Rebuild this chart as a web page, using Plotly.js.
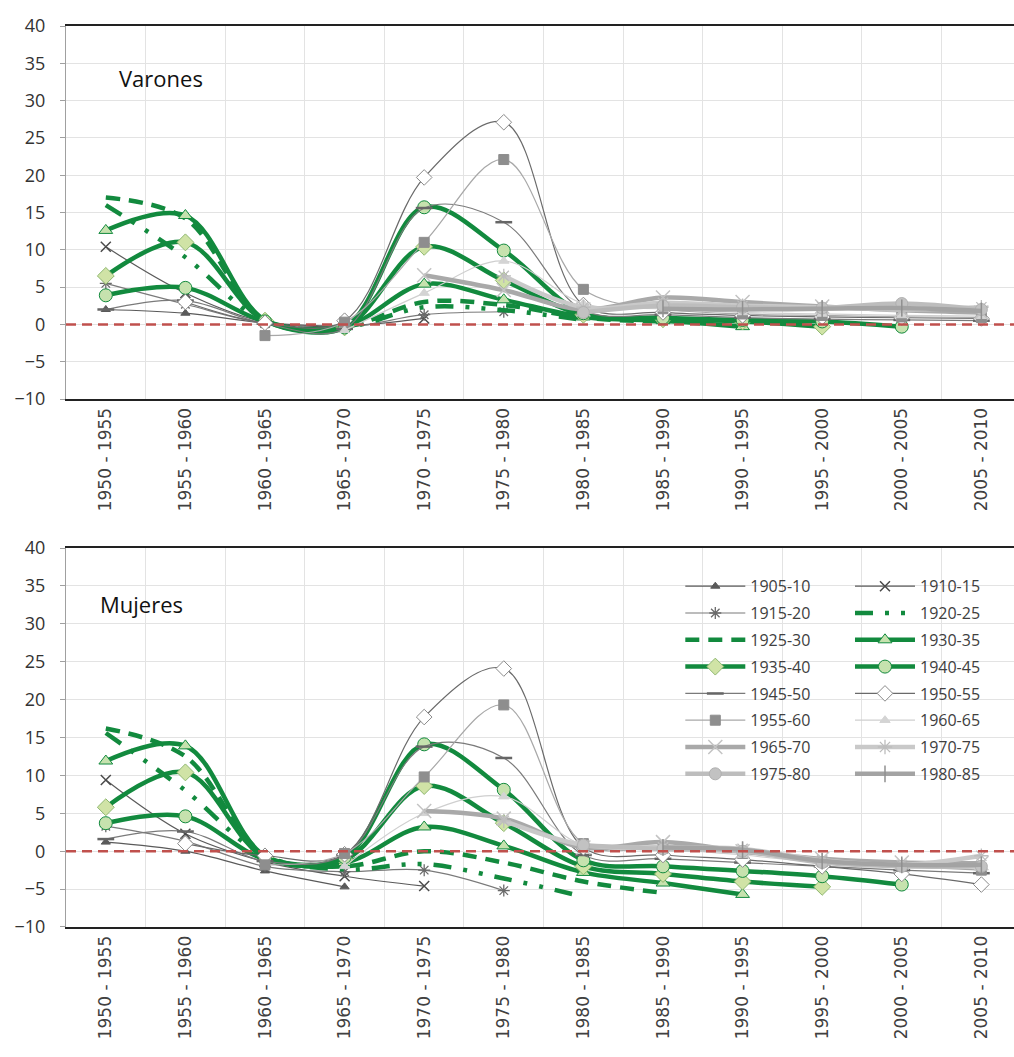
<!DOCTYPE html>
<html><head><meta charset="utf-8">
<script src="https://cdn.plot.ly/plotly-3.0.1.min.js"></script>
<style>html,body{margin:0;padding:0;background:#fff}#chart{width:1014px;height:1057px}</style>
</head><body><div id="chart"></div>
<script>
// ---- DATA ----
const periods = ['1950 - 1955','1955 - 1960','1960 - 1965','1965 - 1970','1970 - 1975','1975 - 1980',
                 '1980 - 1985','1985 - 1990','1990 - 1995','1995 - 2000','2000 - 2005','2005 - 2010'];
const cohorts = ['1905-10','1910-15','1915-20','1920-25','1925-30','1930-35','1935-40','1940-45',
                 '1945-50','1950-55','1955-60','1960-65','1965-70','1970-75','1975-80','1980-85'];
const panelTitles = ['Varones','Mujeres'];
const yTicks = [-10,-5,0,5,10,15,20,25,30,35,40];

// Varones
const V1905 = [2.0, 1.5, 0.2, -0.3, null, null, null, null, null, null, null, null];
const V1910 = [10.4, 4.2, 0.3, -0.2, 0.8, null, null, null, null, null, null, null];
const V1915 = [5.5, 2.7, 0.1, -0.4, 1.3, 1.7, null, null, null, null, null, null];
const V1920 = [16.0, 9.0, 0.4, -0.4, 2.3, 1.9, 0.6, null, null, null, null, null];
const V1925 = [17.0, 14.2, 0.6, -0.3, 3.0, 2.6, 0.9, 0.4, null, null, null, null];
const V1930 = [12.6, 14.6, 0.6, -0.3, 5.4, 3.3, 1.0, 0.5, -0.3, null, null, null];
const V1935 = [6.5, 11.0, 0.5, -0.4, 10.4, 5.9, 1.3, 0.7, 0.4, -0.3, null, null];
const V1940 = [3.9, 4.9, 0.4, -0.4, 15.7, 9.9, 1.5, 0.9, 0.6, 0.4, -0.3, null];
const V1945 = [2.0, 3.2, 0.1, -0.6, 15.6, 13.7, 1.9, 1.3, 0.9, 0.7, 0.6, 0.5];
const V1950 = [null, 3.0, 0.2, 0.5, 19.7, 27.1, 2.6, 1.6, 1.2, 1.0, 0.9, 0.8];
const V1955 = [null, null, -1.5, 0.3, 11.0, 22.1, 4.7, 2.1, 1.4, 1.2, 1.0, 0.9];
const V1960 = [null, null, null, -0.8, 4.2, 8.5, 2.8, 2.1, 1.6, 1.4, 1.2, 1.1];
const V1965 = [null, null, null, null, 6.6, 4.6, 2.0, 3.6, 3.0, 2.4, 1.9, 1.6];
const V1970 = [null, null, null, null, null, 6.5, 2.3, 2.9, 2.5, 2.3, 2.0, 2.3];
const V1975 = [null, null, null, null, null, null, 1.6, 2.5, 2.3, 2.2, 2.8, 2.0];
const V1980 = [null, null, null, null, null, null, null, 2.1, 2.0, 2.1, 2.2, 1.8];

// Mujeres
const M1905 = [1.2, 0.0, -2.6, -4.7, null, null, null, null, null, null, null, null];
const M1910 = [9.4, 2.3, -1.4, -3.3, -4.6, null, null, null, null, null, null, null];
const M1915 = [3.3, 1.3, -2.0, -2.7, -2.5, -5.2, null, null, null, null, null, null];
const M1920 = [15.6, 8.0, -0.6, -2.4, -1.7, -3.6, -6.0, null, null, null, null, null];
const M1925 = [16.2, 12.5, -0.5, -2.0, 0.0, -1.5, -4.0, -5.5, null, null, null, null];
const M1930 = [11.9, 13.9, -0.6, -1.5, 3.2, 0.7, -2.8, -4.2, -5.7, null, null, null];
const M1935 = [5.8, 10.4, -0.8, -1.1, 8.6, 3.7, -2.0, -3.0, -4.0, -4.7, null, null];
const M1940 = [3.7, 4.6, -1.0, -0.8, 14.1, 8.1, -1.2, -2.0, -2.6, -3.3, -4.4, null];
const M1945 = [1.6, 2.6, -1.3, -0.5, 13.8, 12.3, -0.5, -1.0, -1.5, -2.0, -2.5, -2.9];
const M1950 = [null, 1.0, -0.6, -0.4, 17.7, 24.1, 0.5, -0.5, -1.1, -2.0, -3.0, -4.4];
const M1955 = [null, null, -1.8, -0.3, 9.8, 19.3, 1.0, 0.4, -0.3, -1.4, -2.0, -2.5];
const M1960 = [null, null, null, -2.0, 5.0, 7.2, 0.8, 0.3, -0.5, -1.5, -2.0, -2.2];
const M1965 = [null, null, null, null, 5.3, 4.3, 0.5, 1.2, 0.0, -1.0, -1.5, -1.6];
const M1970 = [null, null, null, null, null, 4.0, 0.8, 0.5, 0.3, -1.2, -1.8, -0.6];
const M1975 = [null, null, null, null, null, null, 0.8, 0.3, 0.0, -1.5, -2.0, -2.0];
const M1980 = [null, null, null, null, null, null, null, 0.5, 0.2, -1.3, -1.8, -1.8];

const varones = [V1905,V1910,V1915,V1920,V1925,V1930,V1935,V1940,V1945,V1950,V1955,V1960,V1965,V1970,V1975,V1980];
const mujeres = [M1905,M1910,M1915,M1920,M1925,M1930,M1935,M1940,M1945,M1950,M1955,M1960,M1965,M1970,M1975,M1980];

// ---- STYLES ----
const G = '#128a3e', LG = '#c6e2ae', LGD = '#d0e3a6';
const styles = [
  {lc:'#5a5a5a', lw:1.2, sym:'triangle-up', ms:8, mc:'#5a5a5a', ml:'#5a5a5a', mlw:1},
  {lc:'#5a5a5a', lw:1.2, sym:'x-thin-open', ms:10, mc:'#4a4a4a', ml:'#4a4a4a', mlw:1.5},
  {lc:'#7a7a7a', lw:1.2, sym:'asterisk-open', ms:10, mc:'#6a6a6a', ml:'#6a6a6a', mlw:1.3},
  {lc:G, lw:4.5, dash:'18px,12px,4px,12px,4px,12px', sym:null},
  {lc:G, lw:4.5, dash:'14px,9px', sym:null},
  {lc:G, lw:4.5, sym:'triangle-up', ms:12, mc:LG, ml:G, mlw:1},
  {lc:G, lw:4.5, sym:'diamond', ms:13, mc:LGD, ml:'#8fb870', mlw:1},
  {lc:G, lw:4.5, sym:'circle', ms:13, mc:LG, ml:G, mlw:1},
  {lc:'#7a7a7a', lw:1.2, sym:'line-ew-open', ms:12, mc:'#666', ml:'#666', mlw:2.5},
  {lc:'#6a6a6a', lw:1.2, sym:'diamond', ms:12, mc:'#ffffff', ml:'#8a8a8a', mlw:1},
  {lc:'#a8a8a8', lw:1.2, sym:'square', ms:10, mc:'#8e8e8e', ml:'#8e8e8e', mlw:1},
  {lc:'#cfcfcf', lw:1.2, sym:'triangle-up', ms:9, mc:'#d4d4d4', ml:'#d4d4d4', mlw:1},
  {lc:'#a9a9a9', lw:4.5, sym:'x-thin-open', ms:14, mc:'#c4c4c4', ml:'#c4c4c4', mlw:1.5},
  {lc:'#c9c9c9', lw:4.5, sym:'asterisk-open', ms:12, mc:'#bdbdbd', ml:'#bdbdbd', mlw:1.3},
  {lc:'#bdbdbd', lw:4.5, sym:'circle', ms:12, mc:'#c2c2c2', ml:'#b0b0b0', mlw:1},
  {lc:'#a3a3a3', lw:4.5, sym:'line-ns-open', ms:12, mc:'#909090', ml:'#909090', mlw:1.5}
];

function mkTrace(vals, i, yax, showLeg) {
  const s = styles[i];
  const t = {
    type:'scatter', x: periods, y: vals, xaxis: yax==='y' ? 'x' : 'x2', yaxis: yax,
    name: cohorts[i], legendgroup: 'g'+i, showlegend: showLeg,
    legend: (i % 2 === 0) ? 'legend' : 'legend2',
    mode: s.sym ? 'lines+markers' : 'lines',
    line: {color: s.lc, width: s.lw, shape:'spline', smoothing:1, dash: s.dash || 'solid'},
    connectgaps:false, hoverinfo:'name+y', cliponaxis:false
  };
  if (s.sym) t.marker = {symbol: s.sym, size: s.ms, color: s.mc, line:{color: s.ml, width: s.mlw}};
  return t;
}

const traces = [];
varones.forEach((v,i)=>traces.push(mkTrace(v,i,'y',false)));
mujeres.forEach((v,i)=>traces.push(mkTrace(v,i,'y2',true)));

const tickFontY = {family:'Open Sans, sans-serif', size:18, color:'#333'};
const tickFontX = {family:'DejaVu Sans, sans-serif', size:17, color:'#404040'};
const xBase = {
  type:'category', range:[-0.5, 11.41], tickson:'boundaries', showgrid:true, gridcolor:'#e3e3e3',
  ticks:'', tickangle:-90, tickfont:tickFontX, showline:true, mirror:true, linecolor:'#222', linewidth:2,
  zeroline:false
};
const yBase = {
  range:[-10,40], tickvals:yTicks, showgrid:true, gridcolor:'#e3e3e3', zeroline:false,
  showline:true, linecolor:'#a0a0a0', linewidth:1, ticks:'outside', ticklen:5, tickcolor:'#a0a0a0',
  tickfont:tickFontY, ticklabelstandoff:11
};
const legBase = {
  xanchor:'left', yanchor:'top', y:0.397, bgcolor:'rgba(0,0,0,0)',
  font:{family:'Open Sans, sans-serif', size:16, color:'#404040'},
  itemwidth:60, traceorder:'grouped', tracegroupgap:3
};

const layout = {
  width:1014, height:1057, margin:{l:66, r:0, t:26, b:130},
  paper_bgcolor:'#fff', plot_bgcolor:'#fff',
  xaxis: Object.assign({}, xBase, {domain:[0,1], anchor:'y'}),
  xaxis2: Object.assign({}, xBase, {domain:[0,1], anchor:'y2'}),
  yaxis: Object.assign({}, yBase, {domain:[0.586,1], anchor:'x'}),
  yaxis2: Object.assign({}, yBase, {domain:[0,0.4206], anchor:'x2'}),
  legend: Object.assign({}, legBase, {x:0.648}),
  legend2: Object.assign({}, legBase, {x:0.827}),
  shapes: [
    {type:'line', xref:'paper', x0:0, x1:1, yref:'y', y0:0, y1:0, line:{color:'#c0504d', width:2.5, dash:'10px,6px'}},
    {type:'line', xref:'paper', x0:0, x1:1, yref:'y2', y0:0, y1:0, line:{color:'#c0504d', width:2.5, dash:'10px,6px'}}
  ],
  annotations: [
    {xref:'paper', yref:'paper', x:0.054, y:0.942, xanchor:'left', yanchor:'middle', showarrow:false,
     text: panelTitles[0], font:{family:'Open Sans, sans-serif', size:22, color:'#111'}},
    {xref:'paper', yref:'paper', x:0.034, y:0.3585, xanchor:'left', yanchor:'middle', showarrow:false,
     text: panelTitles[1], font:{family:'Open Sans, sans-serif', size:22, color:'#111'}}
  ]
};

Plotly.newPlot('chart', traces, layout, {displayModeBar:false, staticPlot:true});
</script></body></html>
